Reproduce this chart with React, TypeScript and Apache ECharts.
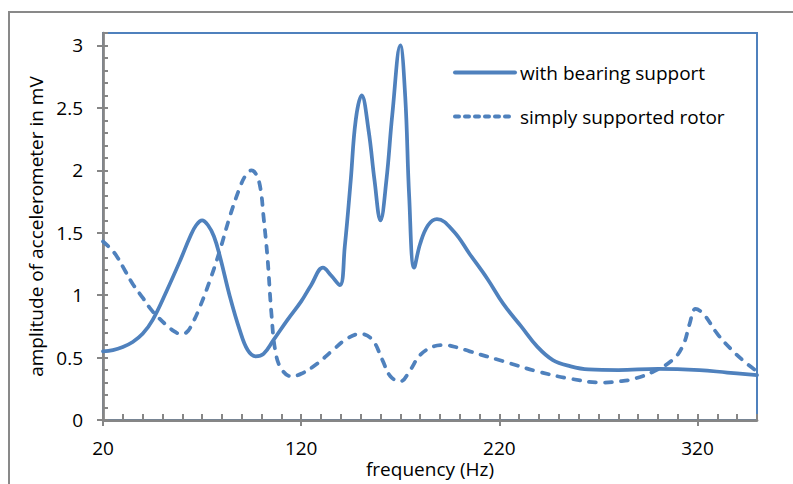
import React, { useEffect, useRef } from "react";
import * as echarts from "echarts";

// frequency (Hz) / amplitude (mV)
const bearingFreq = [20, 25, 30, 35, 40, 45, 52, 59, 64, 67, 70, 73, 76, 79, 84, 89, 93, 97, 101, 106, 113, 120, 125, 131, 135, 139.5, 142, 145, 147.5, 150.5, 154, 157, 160, 163, 166, 170, 172.5, 174.5, 177, 180, 184, 188.5, 197, 205, 214, 222, 231, 239, 247, 256, 265, 280, 300, 321, 335, 350];
const bearingAmp = [0.55, 0.56, 0.585, 0.625, 0.69, 0.8, 1.03, 1.28, 1.47, 1.56, 1.6, 1.56, 1.47, 1.31, 0.99, 0.72, 0.56, 0.51, 0.53, 0.64, 0.8, 0.95, 1.08, 1.22, 1.16, 1.08, 1.39, 1.92, 2.4, 2.6, 2.32, 1.92, 1.6, 1.92, 2.45, 3.0, 2.59, 1.79, 1.22, 1.41, 1.56, 1.61, 1.51, 1.33, 1.13, 0.93, 0.75, 0.59, 0.48, 0.43, 0.405, 0.4, 0.41, 0.4, 0.38, 0.36];

const simpleFreq = [20, 24, 27, 31, 35, 40, 44, 48, 52, 56, 59, 62, 65, 69, 74, 79, 84, 89, 92, 95, 97.5, 99.5, 101, 103, 105, 107, 110, 115, 120, 128, 136, 143, 150, 156, 161, 165, 170, 175, 180, 187, 192, 199, 205, 222, 239, 256, 272, 281, 288, 298, 308, 313, 316, 319, 323, 330, 338, 345, 350];
const simpleAmp = [1.43, 1.37, 1.31, 1.2, 1.09, 0.98, 0.89, 0.82, 0.76, 0.71, 0.69, 0.7, 0.77, 0.91, 1.12, 1.36, 1.63, 1.86, 1.96, 2.0, 1.96, 1.85, 1.63, 1.3, 0.85, 0.55, 0.41, 0.35, 0.37, 0.45, 0.56, 0.65, 0.69, 0.64, 0.48, 0.35, 0.31, 0.4, 0.52, 0.59, 0.6, 0.58, 0.55, 0.47, 0.39, 0.33, 0.3, 0.31, 0.33, 0.39, 0.49, 0.61, 0.77, 0.89, 0.85, 0.69, 0.55, 0.45, 0.39];

const seriesNames = ["with bearing support", "simply supported rotor"];
const xTickLabels = [20, 120, 220, 320];
const yTickLabels = [0, 0.5, 1, 1.5, 2, 2.5, 3];
const xName = "frequency (Hz)";
const yName = "amplitude of accelerometer in mV";

const X_MIN = 20;
const X_MAX = 350;
const Y_MIN = 0;
const Y_MAX = 3.1;

const BLUE = "#4F81BD";
const GRAY = "#868686";
const FONT = "'Open Sans', 'Noto Sans', sans-serif";
const FS = 19;

export default function App() {
  const ref = useRef<HTMLDivElement>(null);

  useEffect(() => {
    if (!ref.current) return;
    const chart = echarts.init(ref.current, null, { renderer: "svg" });

    const xMinor: number[] = [];
    for (let v = X_MIN; v <= X_MAX; v += 10) xMinor.push(v);
    const yMinor: number[] = [];
    for (let i = 0; i <= 31; i++) yMinor.push(i / 10);

    const text = { fontFamily: FONT, fontSize: FS, color: "#000" };

    chart.setOption({
      animation: false,
      textStyle: { fontFamily: FONT },
      graphic: [
        {
          type: "rect",
          silent: true,
          shape: { x: 9, y: 12, width: 820, height: 520 },
          style: { fill: "none", stroke: "#898989", lineWidth: 2 },
        },
      ],
      grid: {
        left: 103,
        top: 33,
        right: 36,
        bottom: 64,
        show: true,
        borderColor: BLUE,
        borderWidth: 2,
        backgroundColor: "transparent",
        containLabel: false,
        outerBoundsMode: "none",
      },
      legend: {
        orient: "vertical",
        left: 448,
        top: 58,
        itemWidth: 60,
        itemHeight: 14,
        itemGap: 25,
        textStyle: text,
        itemStyle: { opacity: 0 },
        data: [
          { name: seriesNames[0], lineStyle: { width: 4, cap: "round" } },
          { name: seriesNames[1], lineStyle: { width: 4, type: [4, 6], cap: "round" } },
        ],
      },
      xAxis: [
        {
          type: "value",
          min: X_MIN,
          max: X_MAX,
          position: "bottom",
          name: xName,
          nameLocation: "middle",
          nameGap: 39,
          nameMoveOverlap: false,
          nameTextStyle: { ...text, fontSize: 19 },
          axisLine: { show: true, onZero: false, lineStyle: { color: GRAY, width: 2.75 } },
          axisTick: { show: true, inside: false, length: 6, customValues: xTickLabels, lineStyle: { color: GRAY, width: 2 } },
          axisLabel: { show: true, customValues: xTickLabels, margin: 18, ...text },
          splitLine: { show: false },
        },
        {
          type: "value",
          min: X_MIN,
          max: X_MAX,
          position: "bottom",
          axisLine: { show: false, onZero: false },
          axisTick: { show: true, inside: true, length: 6, customValues: xMinor, lineStyle: { color: GRAY, width: 2 } },
          axisLabel: { show: false },
          splitLine: { show: false },
        },
      ],
      yAxis: [
        {
          type: "value",
          min: Y_MIN,
          max: Y_MAX,
          position: "left",
          name: yName,
          nameLocation: "middle",
          nameGap: 55,
          nameTextStyle: text,
          axisLine: { show: true, onZero: false, lineStyle: { color: GRAY, width: 2.75 } },
          axisTick: { show: true, inside: false, length: 6, customValues: yTickLabels, lineStyle: { color: GRAY, width: 2 } },
          axisLabel: { show: true, customValues: yTickLabels, margin: 20, ...text },
          splitLine: { show: false },
        },
        {
          type: "value",
          min: Y_MIN,
          max: Y_MAX,
          position: "left",
          axisLine: { show: false, onZero: false },
          axisTick: { show: true, inside: true, length: 5, customValues: yMinor, lineStyle: { color: GRAY, width: 2 } },
          axisLabel: { show: false },
          splitLine: { show: false },
        },
      ],
      series: [
        {
          name: seriesNames[0],
          type: "line",
          xAxisIndex: 0,
          yAxisIndex: 0,
          data: bearingFreq.map((f, i) => [f, bearingAmp[i]]),
          smooth: 0.4,
          symbol: "none",
          showSymbol: false,
          itemStyle: { color: BLUE },
          lineStyle: { color: BLUE, width: 3.75, cap: "round", join: "round" },
        },
        {
          name: seriesNames[1],
          type: "line",
          xAxisIndex: 0,
          yAxisIndex: 0,
          data: simpleFreq.map((f, i) => [f, simpleAmp[i]]),
          smooth: 0.4,
          symbol: "none",
          showSymbol: false,
          itemStyle: { color: BLUE },
          lineStyle: { color: BLUE, width: 3.75, type: [7, 9], cap: "round", join: "round" },
        },
      ],
    });

    return () => chart.dispose();
  }, []);

  return (
    <div
      ref={ref}
      style={{ position: "fixed", left: 0, top: 0, width: 793, height: 484, background: "#fff" }}
    />
  );
}
